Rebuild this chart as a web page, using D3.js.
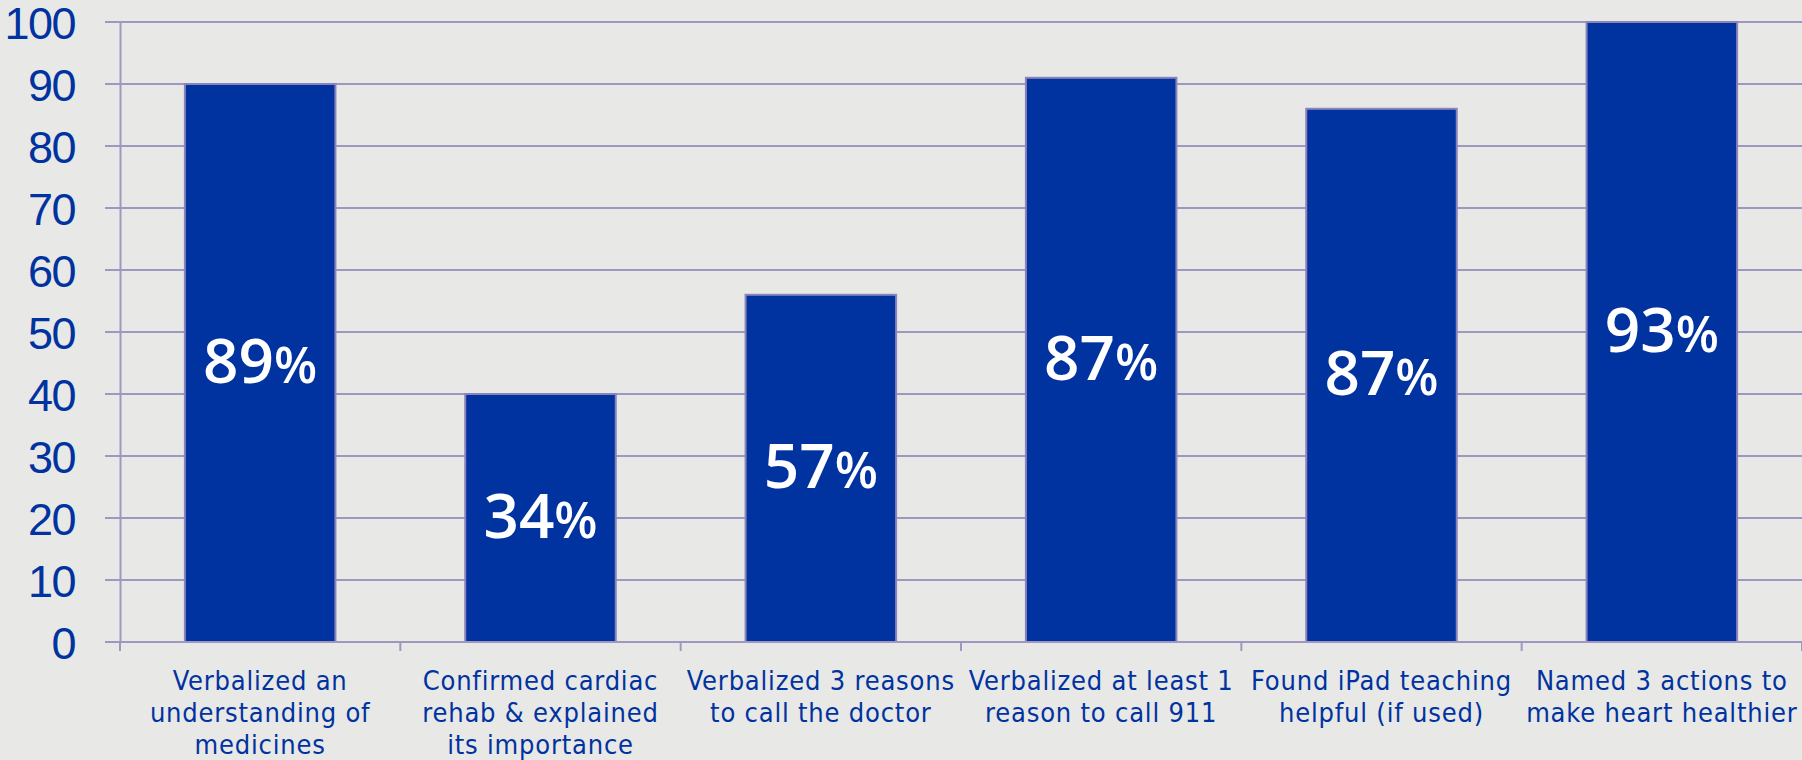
<!DOCTYPE html>
<html><head><meta charset="utf-8">
<script src="https://cdn.jsdelivr.net/npm/d3@7"></script>
<style>
html,body{margin:0;padding:0;background:#e8e8e6;overflow:hidden;}
svg{display:block;}
</style></head>
<body>
<svg id="chart" width="1802" height="760"></svg>
<script>
const categories = [
  ["Verbalized an", "understanding of", "medicines"],
  ["Confirmed cardiac", "rehab & explained", "its importance"],
  ["Verbalized 3 reasons", "to call the doctor"],
  ["Verbalized at least 1", "reason to call 911"],
  ["Found iPad teaching", "helpful (if used)"],
  ["Named 3 actions to", "make heart healthier"]
];
const barValues = [90, 40, 56, 91, 86, 100];
const labelNumbers = ["89", "34", "57", "87", "87", "93"];
const yTicks = [0, 10, 20, 30, 40, 50, 60, 70, 80, 90, 100];

const W = 1802, H = 760;
const m = {left: 120, right: 0, top: 22, bottom: 118};
const svg = d3.select("#chart");
const blue = "#0033a0", grid = "#a096c0";

const x = d3.scaleBand().domain(d3.range(categories.length)).range([m.left, W - m.right]).paddingInner(0.463).paddingOuter(0.2315);
const y = d3.scaleLinear().domain([0, 100]).range([H - m.bottom, m.top]);

// gridlines
svg.append("g").selectAll("line").data(yTicks).join("line")
  .attr("x1", m.left - 15).attr("x2", W)
  .attr("y1", d => y(d)).attr("y2", d => y(d))
  .attr("stroke", grid).attr("stroke-width", 2);

// y axis
const yAxis = d3.axisLeft(y).tickValues(yTicks).tickSize(0).tickPadding(45);
const gy = svg.append("g").attr("transform", `translate(${m.left},0)`).call(yAxis);
gy.select(".domain").attr("stroke", grid).attr("stroke-width", 2);
gy.selectAll("text").attr("fill", blue).attr("font-family", "'Liberation Sans', Arial, sans-serif")
  .attr("font-size", 45).attr("letter-spacing", -1.5).attr("dy", "0.36em");

// bars
svg.append("g").selectAll("rect").data(barValues).join("rect")
  .attr("x", (d, i) => x(i)).attr("width", x.bandwidth())
  .attr("y", d => y(d)).attr("height", d => y(0) - y(d))
  .attr("fill", blue).attr("stroke", "#8a84bb").attr("stroke-width", 2);

// x axis with boundary ticks
const bounds = d3.range(categories.length + 1).map(i => m.left + i * (W - m.left) / categories.length);
svg.append("line").attr("x1", m.left - 15).attr("x2", W).attr("y1", y(0)).attr("y2", y(0))
  .attr("stroke", grid).attr("stroke-width", 2);
svg.append("g").selectAll("line").data(bounds).join("line")
  .attr("x1", d => d).attr("x2", d => d).attr("y1", y(0)).attr("y2", y(0) + 9)
  .attr("stroke", grid).attr("stroke-width", 2);

// category labels
const cat = svg.append("g").selectAll("text").data(categories).join("text")
  .attr("x", (d, i) => x(i) + x.bandwidth() / 2)
  .attr("y", y(0) + 48)
  .attr("text-anchor", "middle").attr("fill", blue)
  .attr("font-family", "'DejaVu Sans Condensed', 'Liberation Sans Narrow', sans-serif")
  .attr("font-size", 27).attr("letter-spacing", 0.8);
cat.selectAll("tspan").data(d => d).join("tspan")
  .attr("x", function() { return this.parentNode.getAttribute("x"); })
  .attr("dy", (d, i) => i === 0 ? 0 : 32)
  .text(d => d);

// value labels
const vl = svg.append("g").selectAll("text").data(barValues).join("text")
  .attr("x", (d, i) => x(i) + x.bandwidth() / 2)
  .attr("y", d => (y(d) + y(0)) / 2 + 14)
  .attr("dy", "0.36em")
  .attr("text-anchor", "middle").attr("fill", "#ffffff")
  .attr("font-family", "'Open Sans', sans-serif").attr("font-weight", 600);
vl.append("tspan").attr("font-size", 62).text((d, i) => labelNumbers[i]);
vl.append("tspan").attr("font-size", 50).text("%");
</script>
</body></html>
